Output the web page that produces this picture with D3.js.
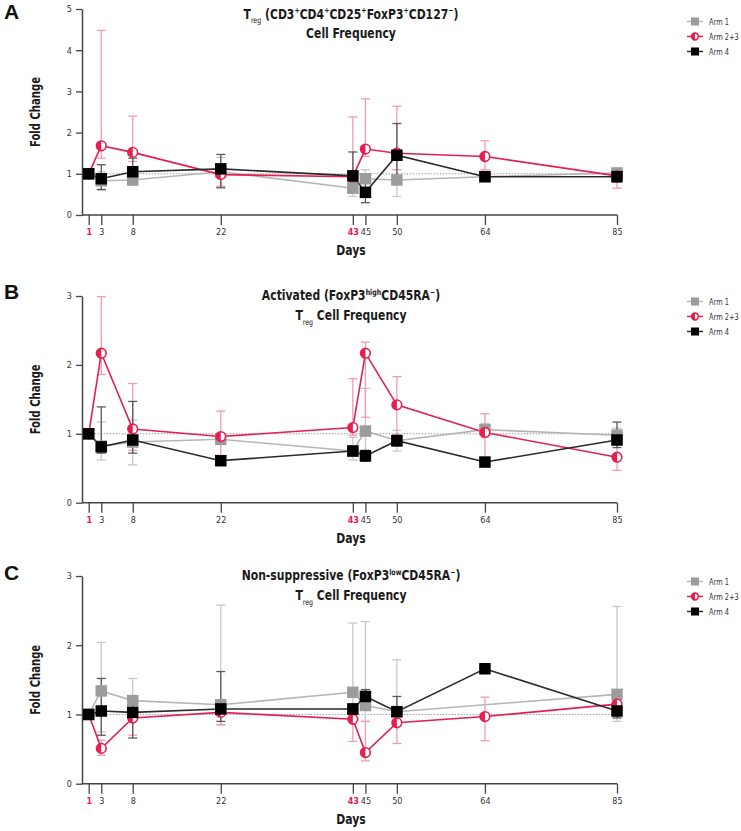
<!DOCTYPE html>
<html>
<head>
<meta charset="utf-8">
<script src="https://cdn.jsdelivr.net/npm/d3@7"></script>
<style>
  html, body { margin: 0; padding: 0; background: #fff; }
  svg { display: block; }
</style>
</head>
<body>
<svg id="chart" width="741" height="831"></svg>
<script>
// ---------------- DATA ----------------
const days = [1, 3, 8, 22, 43, 45, 50, 64, 85];
const highlightDays = [1, 43];
const armNames = ["Arm 1", "Arm 2+3", "Arm 4"];
const yTicksA = [0, 1, 2, 3, 4, 5];
const yTicksBC = [0, 1, 2, 3];

// Panel A: Treg cell frequency (fold change)
const A_arm1  = [1, 0.83, 0.85, 1.05, 0.65, 0.88, 0.85, 0.93, 1.02];
const A_arm1_lo = [1, 0.60, 0.72, 0.68, 0.45, 0.50, 0.45, 0.88, 0.90];
const A_arm1_hi = [1, 1.05, 1.00, 1.40, 0.85, 1.10, 1.10, 0.98, 1.13];
const A_arm23 = [1, 1.68, 1.52, 0.98, 0.93, 1.60, 1.50, 1.42, 0.95];
const A_arm23_lo = [1, 1.38, 1.30, 0.70, 0.80, 1.42, 1.10, 1.10, 0.65];
const A_arm23_hi = [1, 4.48, 2.40, 1.15, 2.38, 2.82, 2.64, 1.80, 1.12];
const A_arm4  = [1, 0.88, 1.05, 1.12, 0.95, 0.55, 1.45, 0.93, 0.93];
const A_arm4_lo = [1, 0.62, 0.78, 0.66, 0.80, 0.30, 0.95, 0.90, 0.80];
const A_arm4_hi = [1, 1.22, 1.38, 1.47, 1.53, 0.80, 2.22, 0.96, 1.05];

// Panel B: Activated (FoxP3high CD45RA-) Treg
const B_arm1  = [1, 0.82, 0.88, 0.92, 0.75, 1.04, 0.90, 1.06, 0.98];
const B_arm1_lo = [1, 0.62, 0.55, 0.85, 0.62, 0.70, 0.75, 0.95, 0.90];
const B_arm1_hi = [1, 1.17, 1.20, 0.98, 0.95, 1.66, 1.05, 1.15, 1.08];
const B_arm23 = [1, 2.17, 1.07, 0.96, 1.09, 2.17, 1.42, 1.02, 0.66];
const B_arm23_lo = [1, 1.86, 0.76, 0.59, 0.98, 1.24, 0.96, 0.59, 0.47];
const B_arm23_hi = [1, 2.99, 1.73, 1.33, 1.80, 2.33, 1.83, 1.29, 0.85];
const B_arm4  = [1, 0.81, 0.91, 0.61, 0.75, 0.68, 0.90, 0.59, 0.91];
const B_arm4_lo = [1, 0.72, 0.72, 0.54, 0.68, 0.60, 0.82, 0.54, 0.80];
const B_arm4_hi = [1, 1.39, 1.47, 0.68, 0.82, 0.76, 0.98, 0.64, 1.17];

// Panel C: Non-suppressive (FoxP3low CD45RA-) Treg  (null = no value)
const C_arm1  = [1, 1.34, 1.20, 1.14, 1.32, 1.13, 1.04, null, 1.29];
const C_arm1_lo = [1, 0.75, 0.90, 0.85, 0.90, 0.90, 0.85, null, 0.90];
const C_arm1_hi = [1, 2.04, 1.52, 2.58, 2.32, 2.34, 1.79, null, 2.56];
const C_arm23 = [1, 0.51, 0.95, 1.03, 0.93, 0.45, 0.88, 0.97, 1.15];
const C_arm23_lo = [1, 0.41, 0.70, 0.85, 0.61, 0.33, 0.58, 0.62, 1.00];
const C_arm23_hi = [1, 0.63, 1.00, 1.21, 1.00, 0.90, 1.00, 1.25, 1.20];
const C_arm4  = [1, 1.05, 1.03, 1.08, 1.08, 1.26, 1.04, 1.66, 1.05];
const C_arm4_lo = [1, 0.70, 0.66, 0.90, 1.00, 1.10, 0.90, 1.60, 0.95];
const C_arm4_hi = [1, 1.52, 1.20, 1.62, 1.15, 1.36, 1.26, 1.70, 1.10];

// Titles: [text, kind]  kind: n = normal, sup, sub
const titleA1 = [["T","n"],["reg","sub"],[" (CD3","n"],["+","sup"],["CD4","n"],["+","sup"],["CD25","n"],["+","sup"],["FoxP3","n"],["+","sup"],["CD127","n"],["−","sup"],[")","n"]];
const titleA2 = [["Cell Frequency","n"]];
const titleB1 = [["Activated (FoxP3","n"],["high","sup"],["CD45RA","n"],["−","sup"],[")","n"]];
const titleB2 = [["T","n"],["reg","sub"],[" Cell Frequency","n"]];
const titleC1 = [["Non-suppressive (FoxP3","n"],["low","sup"],["CD45RA","n"],["−","sup"],[")","n"]];
const titleC2 = [["T","n"],["reg","sub"],[" Cell Frequency","n"]];

// ---------------- STYLE / LAYOUT ----------------
const FONT = "'DejaVu Sans Condensed','Liberation Sans',sans-serif";
const RED = "#e3204f";
const styles = [
  { line: "#b5b5b5", mark: "#9c9c9c", err: "#c8c8c8", shape: "square" },
  { line: RED, mark: RED, err: "#f29cb0", shape: "half" },
  { line: "#2a2a2a", mark: "#000000", err: "#5a5a5a", shape: "square" }
];

const panels = [
  { letter: "A", top: 9, bottom: 215, ymax: 5, ticks: yTicksA, t1: titleA1, t2: titleA2, t1y: 18.5, t2y: 37.5, legY: 21.5, letterY: 19,
    vals: [A_arm1, A_arm23, A_arm4], lo: [A_arm1_lo, A_arm23_lo, A_arm4_lo], hi: [A_arm1_hi, A_arm23_hi, A_arm4_hi] },
  { letter: "B", top: 296, bottom: 502.7, ymax: 3, ticks: yTicksBC, t1: titleB1, t2: titleB2, t1y: 300, t2y: 320, legY: 301.5, letterY: 299,
    vals: [B_arm1, B_arm23, B_arm4], lo: [B_arm1_lo, B_arm23_lo, B_arm4_lo], hi: [B_arm1_hi, B_arm23_hi, B_arm4_hi] },
  { letter: "C", top: 576, bottom: 783.7, ymax: 3, ticks: yTicksBC, t1: titleC1, t2: titleC2, t1y: 580, t2y: 600, legY: 581.5, letterY: 580,
    vals: [C_arm1, C_arm23, C_arm4], lo: [C_arm1_lo, C_arm23_lo, C_arm4_lo], hi: [C_arm1_hi, C_arm23_hi, C_arm4_hi] }
];

const svg = d3.select("#chart");
const x = d3.scaleLinear().domain([1, 85]).range([88.7, 617]);
const axisX0 = 82;

function richText(g, parts, cx, cy, size, sx) {
  const t = g.append("g").attr("transform", `translate(${cx},${cy}) scale(${sx},1)`)
    .append("text").attr("x", 0).attr("y", 0).attr("text-anchor", "middle")
    .attr("font-family", FONT).attr("font-weight", "bold").attr("font-size", size).attr("fill", "#1a1a1a");
  let shift = 0;
  parts.forEach(([s, k]) => {
    const target = k === "sup" ? -size * 0.38 : k === "sub" ? size * 0.34 : 0;
    t.append("tspan").attr("dy", target - shift)
      .attr("font-size", k === "n" ? size : size * 0.58)
      .attr("font-weight", k === "sub" ? "normal" : "bold")
      .text(s);
    shift = target;
  });
  return t;
}

function drawMarker(g, shape, cx, cy, st, size) {
  if (shape === "square") {
    g.append("rect").attr("x", cx - size / 2).attr("y", cy - size / 2)
      .attr("width", size).attr("height", size).attr("fill", st.mark);
  } else {
    const r = size * 0.42;
    g.append("circle").attr("cx", cx).attr("cy", cy).attr("r", r)
      .attr("fill", "#fff").attr("stroke", st.mark).attr("stroke-width", 1.6);
    g.append("path").attr("d", `M${cx},${cy - r} A${r},${r} 0 0 0 ${cx},${cy + r} Z`).attr("fill", st.mark);
  }
}

panels.forEach(p => {
  const g = svg.append("g");
  const y = d3.scaleLinear().domain([0, p.ymax]).range([p.bottom, p.top]);

  // Panel letter
  g.append("text").attr("x", 4).attr("y", p.letterY).attr("font-family", "'Liberation Sans','DejaVu Sans',sans-serif")
    .attr("font-weight", "bold").attr("font-size", 21).attr("fill", "#111").text(p.letter);

  // Titles
  richText(g, p.t1, 351, p.t1y, 14, 0.86);
  richText(g, p.t2, 351, p.t2y, 14, 0.86);

  // Y axis
  const yAxis = g.append("g").attr("transform", `translate(${axisX0},0)`)
    .call(d3.axisLeft(y).tickValues(p.ticks).tickFormat(d3.format("d")).tickSize(6).tickSizeOuter(0).tickPadding(4));
  yAxis.select(".domain").attr("stroke", "#444").attr("stroke-width", 1.5);
  yAxis.selectAll(".tick line").attr("stroke", "#444").attr("stroke-width", 1.3);
  yAxis.selectAll(".tick text").attr("font-family", FONT).attr("font-size", 9).attr("fill", "#333");

  // X axis
  g.append("line").attr("x1", axisX0).attr("x2", x(85)).attr("y1", p.bottom).attr("y2", p.bottom)
    .attr("stroke", "#444").attr("stroke-width", 1.5);
  const xAxis = g.append("g").attr("transform", `translate(0,${p.bottom})`)
    .call(d3.axisBottom(x).tickValues(days).tickFormat(d3.format("d")).tickSize(10).tickSizeOuter(0).tickPadding(4));
  xAxis.select(".domain").remove();
  xAxis.selectAll(".tick line").attr("stroke", "#444").attr("stroke-width", 1.3);
  xAxis.selectAll(".tick text").attr("font-family", FONT).attr("font-size", 9)
    .attr("fill", d => highlightDays.includes(d) ? RED : "#333")
    .attr("font-weight", d => highlightDays.includes(d) ? "bold" : "normal");

  // Axis titles
  g.append("g").attr("transform", `translate(351,${p.bottom + 40}) scale(0.86,1)`)
    .append("text").attr("text-anchor", "middle")
    .attr("font-family", FONT).attr("font-weight", "bold").attr("font-size", 14).attr("fill", "#1a1a1a").text("Days");
  g.append("g").attr("transform", `translate(40,${(p.top + p.bottom) / 2}) rotate(-90) scale(0.8,1)`)
    .append("text").attr("text-anchor", "middle")
    .attr("font-family", FONT).attr("font-weight", "bold").attr("font-size", 14).attr("fill", "#1a1a1a").text("Fold Change");

  // Reference dotted line at 1
  g.append("line").attr("x1", x(1)).attr("x2", x(85) + 4).attr("y1", y(1)).attr("y2", y(1))
    .attr("stroke", "#999").attr("stroke-width", 1).attr("stroke-dasharray", "1.5,1.5");

  const series = p.vals.map((vals, i) => days.map((d, j) => ({ d, v: vals[j], lo: p.lo[i][j], hi: p.hi[i][j] })).filter(o => o.v !== null));

  // Error bars
  series.forEach((s, i) => {
    const st = styles[i];
    const eg = g.append("g").attr("stroke", st.err).attr("stroke-width", 1.3).attr("fill", "none");
    s.forEach(o => {
      if (o.hi > o.lo) {
        eg.append("line").attr("x1", x(o.d)).attr("x2", x(o.d)).attr("y1", y(o.lo)).attr("y2", y(o.hi));
        [o.lo, o.hi].forEach(e => eg.append("line").attr("x1", x(o.d) - 4.5).attr("x2", x(o.d) + 4.5).attr("y1", y(e)).attr("y2", y(e)));
      }
    });
  });

  // Lines
  const lineGen = d3.line().x(o => x(o.d)).y(o => y(o.v));
  series.forEach((s, i) => {
    g.append("path").datum(s).attr("d", lineGen).attr("fill", "none")
      .attr("stroke", styles[i].line).attr("stroke-width", 1.6);
  });

  // Markers
  series.forEach((s, i) => {
    const mg = g.append("g");
    s.forEach(o => drawMarker(mg, styles[i].shape, x(o.d), y(o.v), styles[i], 11.5));
  });

  // Legend
  armNames.forEach((name, i) => {
    const ly = p.legY + i * 15;
    const lg = g.append("g");
    lg.append("line").attr("x1", 687).attr("x2", 703).attr("y1", ly).attr("y2", ly)
      .attr("stroke", styles[i].line).attr("stroke-width", 1.5);
    drawMarker(lg, styles[i].shape, 695, ly, styles[i], 8);
    lg.append("g").attr("transform", `translate(709,${ly}) scale(0.82,1)`)
      .append("text").attr("dy", "0.35em")
      .attr("font-family", FONT).attr("font-size", 9).attr("fill", "#333").text(name);
  });
});
</script>
</body>
</html>
